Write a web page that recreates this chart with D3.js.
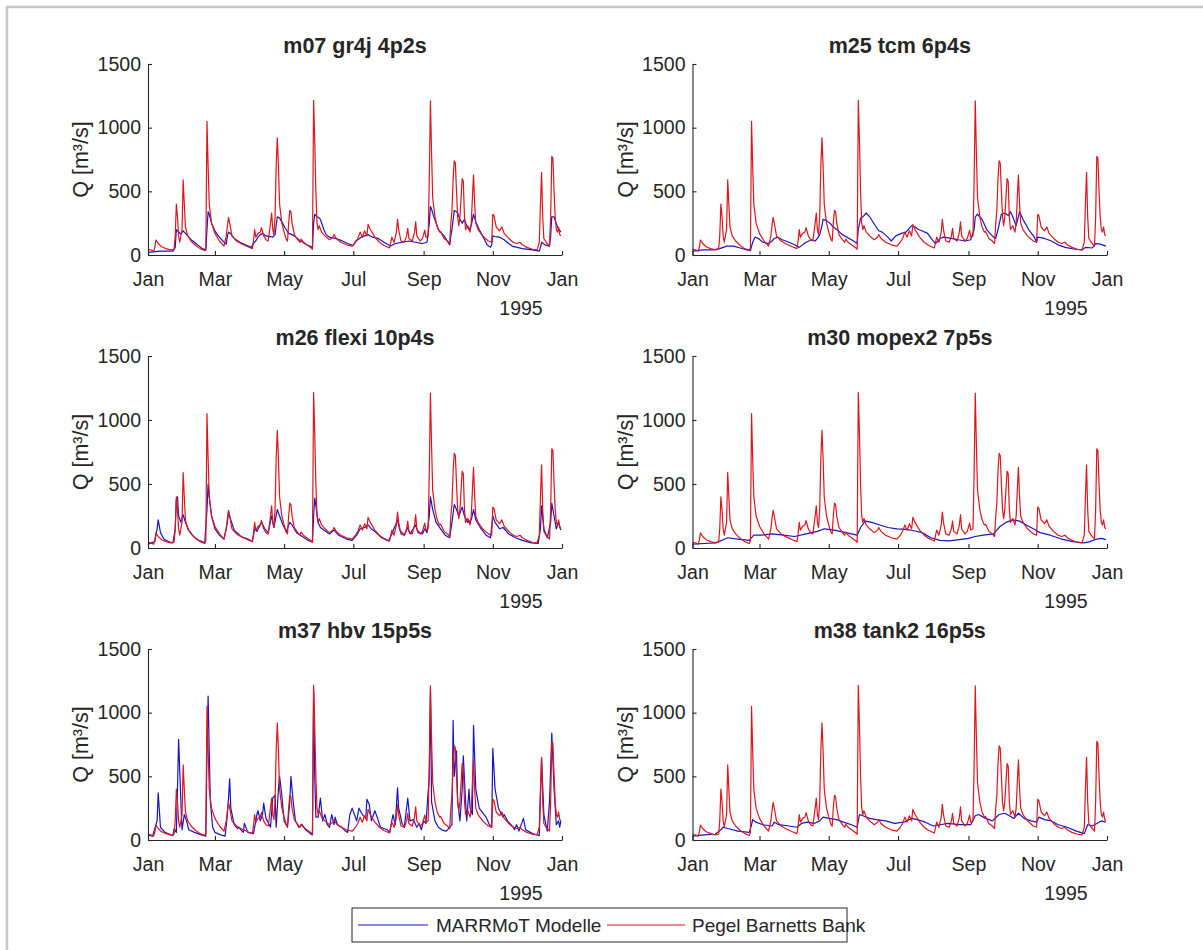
<!DOCTYPE html>
<html>
<head>
<meta charset="utf-8">
<script src="https://cdn.jsdelivr.net/npm/d3@7"></script>
<style>
  body { margin: 0; background: #fff; overflow: hidden; }
  svg { display: block; }
  text { font-family: "Liberation Sans", Arial, sans-serif; fill: #262626; }
</style>
</head>
<body>
<svg id="fig" width="1203" height="950"></svg>
<script>
// Daily discharge, 1995: [day of year (0 = 1 Jan), Q in m³/s]
const yearLabel = "1995";
const yTicks = [0, 500, 1000, 1500];
const panelTitles = ["m07 gr4j 4p2s", "m25 tcm 6p4s", "m26 flexi 10p4s",
                     "m30 mopex2 7p5s", "m37 hbv 15p5s", "m38 tank2 16p5s"];
const legendLabels = ["MARRMoT Modelle", "Pegel Barnetts Bank"];

// Gauge record (shared by every panel)
const observed = [[0,45],[3,38],[5,30],[6,60],[7,118],[9,90],[12,65],[16,50],[20,40],[23,45],[24,150],[25,400],[26,300],[27,150],[28,100],[30,200],[31,590],[32,400],[33,220],[35,150],[38,110],[42,75],[46,50],[50,35],[51,60],[52,1050],[53,700],[54,400],[56,250],[59,170],[63,110],[67,70],[69,150],[70,230],[71,295],[72,250],[74,150],[78,110],[83,85],[88,65],[92,50],[93,110],[94,200],[95,140],[97,170],[99,180],[100,215],[102,150],[104,120],[106,110],[108,250],[109,330],[110,200],[111,160],[112,300],[113,700],[114,920],[115,700],[116,400],[118,250],[120,180],[122,120],[123,110],[124,250],[125,350],[126,340],[127,250],[129,160],[132,120],[134,100],[135,125],[137,100],[140,80],[144,55],[145,45],[146,1215],[147,900],[148,500],[149,250],[150,200],[151,230],[153,180],[156,150],[160,120],[163,140],[164,160],[166,130],[170,100],[175,80],[180,70],[183,100],[185,130],[187,180],[189,140],[191,190],[193,150],[194,240],[196,200],[200,140],[204,100],[208,75],[213,55],[215,140],[217,100],[219,180],[220,280],[221,200],[223,110],[226,100],[228,150],[229,210],[230,130],[233,110],[235,180],[236,260],[237,150],[240,110],[242,130],[244,195],[245,140],[247,150],[248,600],[249,1210],[250,800],[251,450],[253,300],[255,220],[257,180],[258,185],[261,130],[264,110],[266,90],[267,250],[268,350],[269,600],[270,740],[271,720],[272,500],[273,300],[274,230],[275,300],[276,450],[277,600],[278,580],[279,300],[280,200],[282,230],[284,180],[285,250],[286,450],[287,630],[288,400],[289,250],[291,200],[295,150],[300,110],[303,100],[304,320],[305,310],[307,220],[310,190],[312,220],[314,170],[318,130],[322,100],[325,90],[328,100],[330,80],[334,60],[339,45],[343,40],[345,100],[346,400],[347,650],[348,300],[349,130],[351,100],[354,70],[355,300],[356,775],[357,760],[358,500],[359,300],[360,200],[361,180],[362,220],[363,160],[364,150]];

// Simulated runoff per model
const m07 = [[0,20],[5,25],[10,30],[22,30],[24,60],[25,200],[27,180],[29,165],[31,190],[33,170],[35,150],[38,120],[41,100],[45,70],[48,50],[51,38],[52,200],[53,340],[54,320],[56,250],[59,190],[62,150],[66,110],[69,85],[70,150],[71,180],[73,165],[76,130],[81,100],[86,80],[91,60],[93,90],[95,110],[97,140],[99,160],[101,170],[104,150],[108,145],[110,140],[112,160],[113,230],[114,300],[116,290],[118,260],[121,210],[124,170],[127,160],[129,150],[133,120],[135,110],[139,85],[145,60],[146,250],[147,320],[149,300],[151,290],[152,280],[155,200],[157,160],[160,140],[165,130],[169,120],[176,90],[181,75],[183,110],[185,120],[188,140],[191,150],[194,160],[196,150],[198,140],[203,130],[208,100],[214,70],[218,90],[224,100],[230,110],[236,100],[242,90],[246,100],[248,250],[249,380],[250,360],[252,300],[256,200],[261,150],[266,80],[267,150],[268,200],[270,350],[272,340],[273,330],[275,280],[277,250],[279,280],[281,230],[283,200],[285,230],[286,280],[287,320],[289,260],[290,240],[292,200],[295,150],[299,80],[302,60],[303,80],[304,150],[306,145],[310,140],[314,120],[318,90],[321,70],[330,50],[339,40],[345,30],[346,60],[347,100],[350,80],[354,70],[355,150],[356,300],[358,300],[361,220],[364,180]];
const m25 = [[0,30],[9,40],[18,40],[24,50],[30,70],[36,70],[42,55],[48,40],[51,35],[53,100],[55,140],[58,130],[62,100],[67,90],[70,110],[72,130],[75,140],[79,120],[85,100],[90,80],[94,60],[100,100],[105,120],[108,110],[110,130],[112,160],[114,230],[115,280],[118,270],[121,250],[124,220],[127,200],[132,160],[140,120],[145,90],[146,200],[148,290],[150,300],[153,330],[156,300],[161,230],[164,190],[167,180],[172,140],[175,110],[179,150],[184,170],[188,180],[193,230],[196,220],[199,200],[202,190],[207,170],[211,120],[214,90],[218,130],[221,140],[228,130],[234,120],[240,110],[245,120],[248,200],[249,300],[251,320],[255,280],[259,200],[264,150],[267,130],[269,200],[272,320],[275,330],[278,310],[280,340],[282,300],[285,230],[288,340],[291,280],[296,200],[301,140],[303,100],[304,140],[310,130],[316,110],[322,80],[328,60],[337,45],[343,40],[346,60],[352,55],[355,90],[359,85],[364,70]];
const m26 = [[0,30],[6,50],[8,150],[9,220],[11,120],[14,70],[18,50],[22,40],[24,150],[25,380],[26,400],[27,250],[29,200],[31,260],[33,200],[36,140],[40,90],[45,60],[50,40],[52,300],[53,500],[54,400],[56,250],[59,150],[63,100],[67,70],[70,200],[71,280],[73,220],[76,140],[82,90],[88,70],[92,50],[94,150],[96,130],[100,200],[103,150],[106,120],[109,250],[111,160],[114,300],[116,250],[119,180],[122,130],[125,200],[127,180],[131,120],[136,90],[141,60],[145,45],[146,250],[147,390],[148,330],[150,200],[152,160],[155,140],[160,110],[164,140],[168,100],[175,70],[180,60],[184,100],[187,150],[191,160],[194,180],[197,150],[201,120],[206,80],[212,55],[215,110],[220,220],[222,140],[226,100],[229,160],[231,110],[236,180],[238,120],[242,110],[244,150],[246,120],[248,250],[249,400],[251,300],[254,200],[258,150],[262,100],[266,80],[268,200],[270,340],[272,300],[274,250],[277,320],[279,250],[282,200],[285,220],[287,300],[289,220],[293,160],[298,100],[302,80],[304,250],[306,200],[310,150],[313,160],[318,110],[324,80],[330,60],[338,40],[344,35],[346,150],[347,330],[349,150],[352,80],[355,200],[356,350],[358,250],[360,150],[362,200],[364,140]];
const m30 = [[0,30],[10,35],[20,40],[26,60],[31,80],[40,70],[50,60],[54,100],[60,100],[70,110],[80,100],[90,90],[100,110],[110,130],[116,150],[125,140],[135,120],[145,100],[148,160],[152,210],[158,200],[165,180],[172,160],[180,150],[188,145],[195,135],[202,120],[210,80],[218,60],[226,55],[235,65],[243,75],[249,90],[256,100],[265,110],[271,170],[276,200],[282,220],[288,210],[294,180],[300,150],[306,120],[315,100],[325,70],[335,50],[345,40],[350,50],[356,70],[360,75],[364,65]];
const m37 = [[0,40],[4,30],[8,150],[9,370],[11,100],[15,60],[20,40],[22,35],[23,90],[25,60],[26,400],[27,790],[29,300],[30,80],[32,200],[34,150],[36,80],[41,60],[47,40],[51,30],[52,700],[53,1130],[54,700],[55,300],[57,100],[59,60],[64,40],[68,30],[70,200],[71,330],[72,480],[73,250],[76,120],[79,90],[80,100],[82,80],[84,60],[85,130],[88,60],[93,50],[95,150],[96,200],[97,230],[99,150],[101,200],[102,290],[104,170],[107,120],[108,100],[110,330],[112,350],[113,100],[115,400],[116,500],[118,350],[120,150],[123,100],[125,300],[126,500],[128,300],[130,150],[133,100],[136,120],[139,80],[143,50],[145,40],[146,1180],[147,500],[148,180],[150,180],[152,330],[154,150],[156,200],[158,120],[160,100],[162,200],[164,120],[165,180],[167,120],[171,100],[174,70],[176,60],[178,200],[180,250],[182,200],[184,150],[186,250],[189,200],[192,170],[193,320],[195,280],[197,150],[200,230],[202,180],[205,100],[211,80],[213,60],[216,200],[218,120],[220,410],[221,250],[224,130],[226,100],[229,330],[231,150],[234,160],[237,100],[239,130],[241,80],[243,150],[245,130],[248,500],[249,1180],[250,300],[253,150],[256,100],[259,80],[263,70],[266,100],[268,120],[269,940],[270,500],[272,700],[273,300],[275,150],[277,400],[278,660],[280,300],[281,150],[283,400],[284,250],[286,200],[287,900],[289,400],[292,250],[298,180],[301,120],[303,100],[304,720],[306,400],[309,250],[313,180],[314,200],[317,150],[322,100],[323,80],[325,120],[327,70],[331,170],[333,80],[339,50],[345,35],[347,640],[349,200],[352,70],[354,300],[356,840],[358,400],[360,120],[362,150],[363,100],[364,150]];
const m38 = [[0,30],[10,40],[20,45],[25,80],[27,100],[31,90],[40,70],[50,60],[52,120],[53,160],[56,140],[62,120],[70,110],[72,140],[76,120],[85,110],[92,100],[96,130],[101,140],[107,130],[112,150],[115,180],[120,170],[127,160],[133,140],[140,120],[145,100],[147,200],[150,190],[156,170],[162,160],[170,150],[178,130],[186,140],[193,170],[198,160],[205,140],[212,110],[218,120],[225,130],[235,120],[245,120],[249,190],[252,200],[258,170],[264,150],[270,200],[275,210],[279,190],[283,170],[287,210],[292,170],[298,150],[303,140],[305,180],[310,160],[316,150],[322,120],[330,100],[338,70],[345,50],[348,120],[352,110],[356,130],[360,150],[364,140]];

const modelSeries = [m07, m25, m26, m30, m37, m38];

const colModel = "#1515c8";
const colObs = "#e0141c";
const ink = "#262626";

const svg = d3.select("#fig");

// figure frame edge (top and left only inside the page)
svg.append("path").attr("d", "M7,950 V7 H1203")
  .attr("fill", "none").attr("stroke", "#c8c8c8").attr("stroke-width", 2.5);

const cols = [[148, 562], [692.5, 1107]];
const rows = [[64, 255], [356, 548], [649, 840]];

const t0 = Date.UTC(1995, 0, 1);
const toDate = d => new Date(t0 + d * 86400000);

const line = (x, y) => d3.line().x(d => x(toDate(d[0]))).y(d => y(d[1]));

panelTitles.forEach((title, i) => {
  const [x0, x1] = cols[i % 2];
  const [y0, y1] = rows[Math.floor(i / 2)];
  const x = d3.scaleUtc().domain([new Date(t0), new Date(Date.UTC(1996, 0, 1))]).range([x0, x1]);
  const y = d3.scaleLinear().domain([0, 1500]).range([y1, y0]);
  const g = svg.append("g");

  g.append("path").datum(modelSeries[i]).attr("d", line(x, y))
    .attr("fill", "none").attr("stroke", colModel).attr("stroke-width", 1.2).attr("stroke-linejoin", "round");
  g.append("path").datum(observed).attr("d", line(x, y))
    .attr("fill", "none").attr("stroke", colObs).attr("stroke-width", 1.2).attr("stroke-linejoin", "round");

  const ax = g.append("g").attr("transform", `translate(0,${y1})`)
    .call(d3.axisBottom(x).ticks(d3.utcMonth.every(2)).tickFormat(d3.utcFormat("%b"))
      .tickSize(-4).tickSizeOuter(0).tickPadding(17));
  const ay = g.append("g").attr("transform", `translate(${x0},0)`)
    .call(d3.axisLeft(y).tickValues(yTicks).tickFormat(d3.format("d"))
      .tickSize(-4).tickSizeOuter(0).tickPadding(7));
  [ax, ay].forEach(a => {
    a.select(".domain").attr("stroke", ink).attr("stroke-width", 1.1);
    a.selectAll(".tick line").attr("stroke", ink).attr("stroke-width", 1.1);
    a.selectAll(".tick text").attr("fill", ink).style("font-size", "19.5px")
      .style("font-family", '"Liberation Sans", Arial, sans-serif');
  });

  g.append("text").attr("x", x1 - 41).attr("y", y1 + 60).attr("text-anchor", "middle")
    .style("font-size", "19.5px").text(yearLabel);

  g.append("text").attr("x", (x0 + x1) / 2).attr("y", y0 - 11).attr("text-anchor", "middle")
    .style("font-size", "21.5px").style("font-weight", "bold").text(title);

  g.append("text").attr("transform", `translate(${x0 - 60},${(y0 + y1) / 2}) rotate(-90)`)
    .attr("text-anchor", "middle").style("font-size", "21.5px").text("Q [m³/s]");
});

// legend
const lg = svg.append("g");
lg.append("rect").attr("x", 352).attr("y", 908).attr("width", 495).attr("height", 34)
  .attr("fill", "#fff").attr("stroke", ink).attr("stroke-width", 1);
[[358, 428, 436, colModel], [607, 685, 692, colObs]].forEach(([a, b, tx, c], k) => {
  lg.append("line").attr("x1", a).attr("x2", b).attr("y1", 925).attr("y2", 925)
    .attr("stroke", c).attr("stroke-width", 1.2);
  lg.append("text").attr("x", tx).attr("y", 925).attr("dy", "0.35em")
    .style("font-size", "19px").text(legendLabels[k]);
});
</script>
</body>
</html>
